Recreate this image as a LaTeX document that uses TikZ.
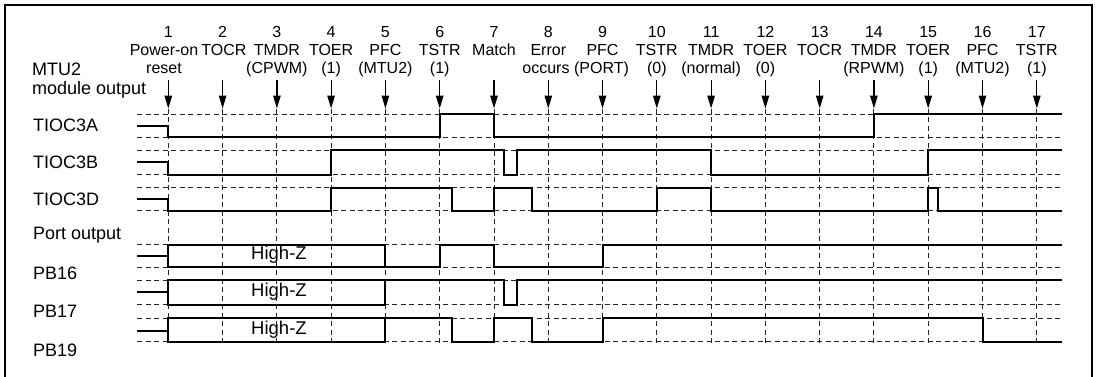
\documentclass[tikz,border=0pt]{standalone}
\usepackage{fontspec}
\setmainfont{Liberation Sans}
\usetikzlibrary{arrows.meta}
\begin{document}
\begin{tikzpicture}[x=1pt,y=-1pt,
  sig/.style={line width=2pt},
  grd/.style={line width=0.9pt, black!85, dash pattern=on 5pt off 3.5pt},
  evt/.style={line width=1.2pt, -{Triangle[length=13pt,width=7.5pt]}},
  toplbl/.style={font=\fontsize{16}{18}\selectfont, anchor=base, inner sep=0pt},
  lbl/.style={font=\fontsize{18}{20}\selectfont, anchor=base west, inner sep=0pt},
  hz/.style={font=\fontsize{18.5}{20}\selectfont, inner sep=0pt}]
\useasboundingbox (0,0) rectangle (1100,376);
% frame
\draw[line width=2.2pt] (5,400) -- (5,5) -- (1092,5) -- (1092,400);

% horizontal dashed reference levels
\foreach \y in {114,137,150,174.5,187.5,210.5,244.5,267,280,304.5,318,341.5}
  \draw[grd] (137,\y) -- (1062,\y);

% event arrows and vertical dashed lines
\foreach \x [count=\i] in {168.3,222.6,276.9,331.1,385.4,439.7,494.0,548.3,602.5,656.8,711.1,765.4,819.7,873.9,928.2,982.5,1036.8} {
  \coordinate (a\i) at (\x,80);
  \coordinate (t\i) at (\x,108.5);
  \coordinate (b\i) at (\x,343.5);
  \draw[evt] (a\i) -- (t\i);
  \draw[grd] (t\i) -- (b\i);
}

% top labels
\foreach \i/\x in {1/168.3,2/222.6,3/276.9,4/331.1,5/385.4,6/439.7,7/494.0,8/548.3,9/602.5,10/656.8,11/711.1,12/765.4,13/819.7,14/873.9,15/928.2,16/982.5,17/1036.8}
  \node[toplbl] (n\i) at (\x,37) {\i};
\node[toplbl] (p1) at (164,55.5) {Power-on};
\node[toplbl] (q1) at (164,73.5) {reset};
\node[toplbl] (p2) at (224,55.5) {TOCR};
\node[toplbl] (p3) at (276.9,55.5) {TMDR};
\node[toplbl] (q3) at (276.9,73.5) {(CPWM)};
\node[toplbl] (p4) at (331.1,55.5) {TOER};
\node[toplbl] (q4) at (331.1,73.5) {(1)};
\node[toplbl] (p5) at (385.4,55.5) {PFC};
\node[toplbl] (q5) at (385.4,73.5) {(MTU2)};
\node[toplbl] (p6) at (439.7,55.5) {TSTR};
\node[toplbl] (q6) at (439.7,73.5) {(1)};
\node[toplbl] (p7) at (494.0,55.5) {Match};
\node[toplbl] (p8) at (548.3,55.5) {Error};
\node[toplbl] (q8) at (546,73.5) {occurs};
\node[toplbl] (p9) at (602.5,55.5) {PFC};
\node[toplbl] (q9) at (601.5,73.5) {(PORT)};
\node[toplbl] (p10) at (656.8,55.5) {TSTR};
\node[toplbl] (q10) at (656.8,73.5) {(0)};
\node[toplbl] (p11) at (711.1,55.5) {TMDR};
\node[toplbl] (q11) at (711.1,73.5) {(normal)};
\node[toplbl] (p12) at (765.4,55.5) {TOER};
\node[toplbl] (q12) at (765.4,73.5) {(0)};
\node[toplbl] (p13) at (819.7,55.5) {TOCR};
\node[toplbl] (p14) at (873.9,55.5) {TMDR};
\node[toplbl] (q14) at (873.9,73.5) {(RPWM)};
\node[toplbl] (p15) at (928.2,55.5) {TOER};
\node[toplbl] (q15) at (928.2,73.5) {(1)};
\node[toplbl] (p16) at (982.5,55.5) {PFC};
\node[toplbl] (q16) at (982.5,73.5) {(MTU2)};
\node[toplbl] (p17) at (1036.8,55.5) {TSTR};
\node[toplbl] (q17) at (1036.8,73.5) {(1)};

% left labels
\node[lbl] (mtu) at (32,75) {MTU2};
\node[lbl] (mod) at (32,94) {module output};
\node[lbl] (la) at (33,131.5) {TIOC3A};
\node[lbl] (lb) at (33,168) {TIOC3B};
\node[lbl] (ld) at (33,205) {TIOC3D};
\node[lbl] (po) at (33,239.5) {Port output};
\node[lbl] (l16) at (33,279) {PB16};
\node[lbl] (l17) at (33,317) {PB17};
\node[lbl] (l19) at (33,356) {PB19};

% waveforms
\draw[sig] (137,125.5) -- (168.3,125.5) -- (168.3,137) -- (439.7,137) -- (439.7,114) -- (494,114) -- (494,137) -- (873.9,137) -- (873.9,114) -- (1062,114);
\draw[sig] (137,162) -- (168.3,162) -- (168.3,174.5) -- (331.1,174.5) -- (331.1,150) -- (504,150) -- (504,174.5) -- (516.7,174.5) -- (516.7,150) -- (711.1,150) -- (711.1,174.5) -- (928.2,174.5) -- (928.2,150) -- (1062,150);
\draw[sig] (137,199) -- (168.3,199) -- (168.3,210.5) -- (331.1,210.5) -- (331.1,187.5) -- (452.3,187.5) -- (452.3,210.5) -- (494,210.5) -- (494,187.5) -- (531.7,187.5) -- (531.7,210.5) -- (656.8,210.5) -- (656.8,187.5) -- (711.1,187.5) -- (711.1,210.5) -- (928.2,210.5) -- (928.2,187.5) -- (938.3,187.5) -- (938.3,210.5) -- (1062,210.5);

\draw[sig] (137,255.5) -- (168.3,255.5);
\draw[sig] (168.3,244.5) rectangle (385.4,267);
\draw[sig] (385.4,267) -- (439.7,267) -- (439.7,244.5) -- (494,244.5) -- (494,267) -- (602.5,267) -- (602.5,244.5) -- (1062,244.5);

\draw[sig] (137,292) -- (168.3,292);
\draw[sig] (168.3,280) rectangle (385.4,304.5);
\draw[sig] (385.4,280) -- (504,280) -- (504,304.5) -- (516.7,304.5) -- (516.7,280) -- (1062,280);

\draw[sig] (137,331) -- (168.3,331);
\draw[sig] (168.3,318) rectangle (385.4,341.5);
\draw[sig] (385.4,318) -- (452.3,318) -- (452.3,341.5) -- (494,341.5) -- (494,318) -- (531.7,318) -- (531.7,341.5) -- (602.5,341.5) -- (602.5,318) -- (982.5,318) -- (982.5,341.5) -- (1062,341.5);

% High-Z labels
\node[hz] (hz16) at (279,255) {High-Z};
\node[hz] (hz17) at (279,291.5) {High-Z};
\node[hz] (hz19) at (279,329.5) {High-Z};
\end{tikzpicture}
\end{document}
